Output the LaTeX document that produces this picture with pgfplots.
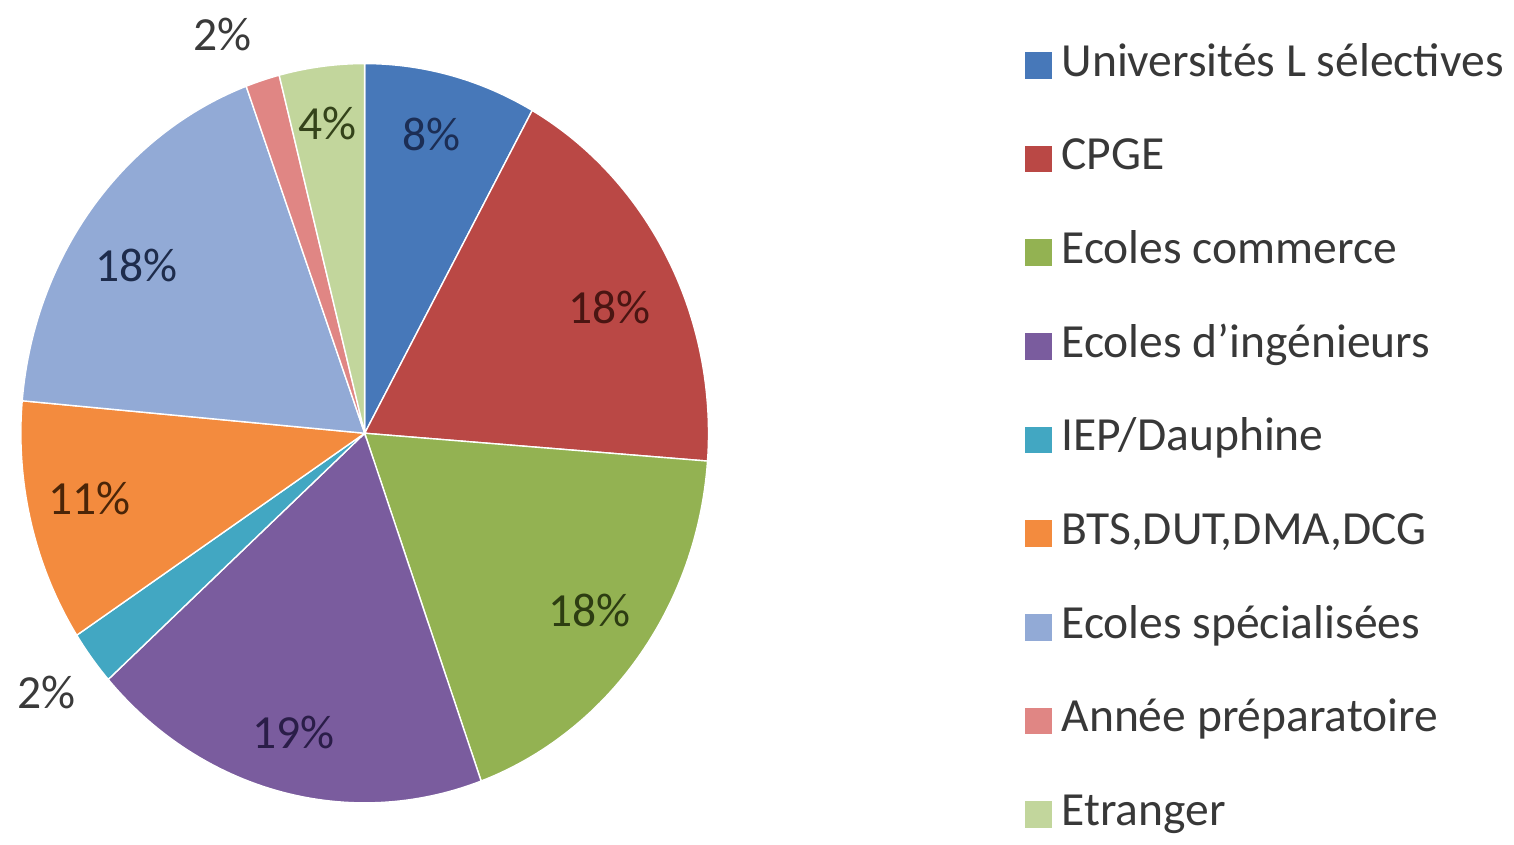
\documentclass[border=0pt]{standalone}
\usepackage{fontspec}
\setmainfont{Carlito}
\usepackage{pgfplots}
\pgfplotsset{compat=1.18}
\definecolor{cUni}{HTML}{4778B9}
\definecolor{cCPGE}{HTML}{BA4845}
\definecolor{cCom}{HTML}{93B252}
\definecolor{cIng}{HTML}{7A5C9E}
\definecolor{cIEP}{HTML}{42A7C2}
\definecolor{cBTS}{HTML}{F38B3E}
\definecolor{cSpe}{HTML}{92AAD6}
\definecolor{cAnn}{HTML}{E08684}
\definecolor{cEtr}{HTML}{C2D69C}
\definecolor{lUni}{HTML}{1C2E55}
\definecolor{lCPGE}{HTML}{4A1512}
\definecolor{lCom}{HTML}{2D3D12}
\definecolor{lIng}{HTML}{2A1D48}
\definecolor{lBTS}{HTML}{4A2508}
\definecolor{lSpe}{HTML}{1E2C4C}
\definecolor{lEtr}{HTML}{34431A}
\definecolor{lOut}{HTML}{3A3A3A}
\begin{document}
\begin{tikzpicture}
% shares (%), clockwise from 12 o'clock:
% Universites 8.1, CPGE 18.1, Commerce 18.3, Ingenieurs 18.9, IEP 2.4,
% BTS 10.6, Specialisees 18.0, Annee prep 1.6, Etranger 4.0
\begin{axis}[
  x=0.01cm, y=0.01cm,
  xmin=0, xmax=1514, ymin=0, ymax=838,
  hide axis, clip=false,
  legend image code/.code={\fill[#1, draw=none] (0cm,-0.135cm) rectangle (0.27cm,0.135cm);},
  legend style={at={(axis cs:1020,803)}, anchor=north west, draw=none, fill=none,
    font=\fontsize{13.6}{16}\selectfont, text=black!78,
    row sep=0.482cm, column sep=0.1cm,
    nodes={inner sep=0pt, text height=0.34cm, text depth=0.12cm},
    cells={anchor=west}},
]
\addplot[draw=none, forget plot] coordinates {(0,0) (1514,838)};
\pgfplotsset{pie/.style={forget plot, variable=\t, samples=60, draw=white, line width=0.4pt}}
\addplot[pie, fill=cUni, domain=0:8.1]   ({367+346*sin(3.6*\t)},{402+372*cos(3.6*\t)}) -- (axis cs:367,402) -- cycle;
\addplot[pie, fill=cCPGE, domain=8.1:26.2]  ({367+346*sin(3.6*\t)},{402+372*cos(3.6*\t)}) -- (axis cs:367,402) -- cycle;
\addplot[pie, fill=cCom, domain=26.2:44.5]  ({367+346*sin(3.6*\t)},{402+372*cos(3.6*\t)}) -- (axis cs:367,402) -- cycle;
\addplot[pie, fill=cIng, domain=44.5:63.4]  ({367+346*sin(3.6*\t)},{402+372*cos(3.6*\t)}) -- (axis cs:367,402) -- cycle;
\addplot[pie, fill=cIEP, domain=63.4:65.8]  ({367+346*sin(3.6*\t)},{402+372*cos(3.6*\t)}) -- (axis cs:367,402) -- cycle;
\addplot[pie, fill=cBTS, domain=65.8:76.4]  ({367+346*sin(3.6*\t)},{402+372*cos(3.6*\t)}) -- (axis cs:367,402) -- cycle;
\addplot[pie, fill=cSpe, domain=76.4:94.4]  ({367+346*sin(3.6*\t)},{402+372*cos(3.6*\t)}) -- (axis cs:367,402) -- cycle;
\addplot[pie, fill=cAnn, domain=94.4:96.0]  ({367+346*sin(3.6*\t)},{402+372*cos(3.6*\t)}) -- (axis cs:367,402) -- cycle;
\addplot[pie, fill=cEtr, domain=96.0:100]  ({367+346*sin(3.6*\t)},{402+372*cos(3.6*\t)}) -- (axis cs:367,402) -- cycle;
\addplot[forget plot, only marks, mark=none, nodes near coords, point meta=explicit symbolic,
  nodes near coords align=center,
  every node near coord/.append style={font=\fontsize{13.6}{16}\selectfont, inner sep=0pt}]
  table[meta=lab] {
x y lab
434 703 \textcolor{lUni}{8\%}
613 529 \textcolor{lCPGE}{18\%}
593 224 \textcolor{lCom}{18\%}
295 101 \textcolor{lIng}{19\%}
47 141 \textcolor{lOut}{2\%}
90 336 \textcolor{lBTS}{11\%}
137 571 \textcolor{lSpe}{18\%}
224 803 \textcolor{lOut}{2\%}
330 714 \textcolor{lEtr}{4\%}
};
\addlegendimage{fill=cUni}\addlegendentry{Universités L sélectives}
\addlegendimage{fill=cCPGE}\addlegendentry{CPGE}
\addlegendimage{fill=cCom}\addlegendentry{Ecoles commerce}
\addlegendimage{fill=cIng}\addlegendentry{Ecoles d’ingénieurs}
\addlegendimage{fill=cIEP}\addlegendentry{IEP/Dauphine}
\addlegendimage{fill=cBTS}\addlegendentry{BTS,DUT,DMA,DCG}
\addlegendimage{fill=cSpe}\addlegendentry{Ecoles spécialisées}
\addlegendimage{fill=cAnn}\addlegendentry{Année préparatoire}
\addlegendimage{fill=cEtr}\addlegendentry{Etranger}
\end{axis}
\end{tikzpicture}
\end{document}
